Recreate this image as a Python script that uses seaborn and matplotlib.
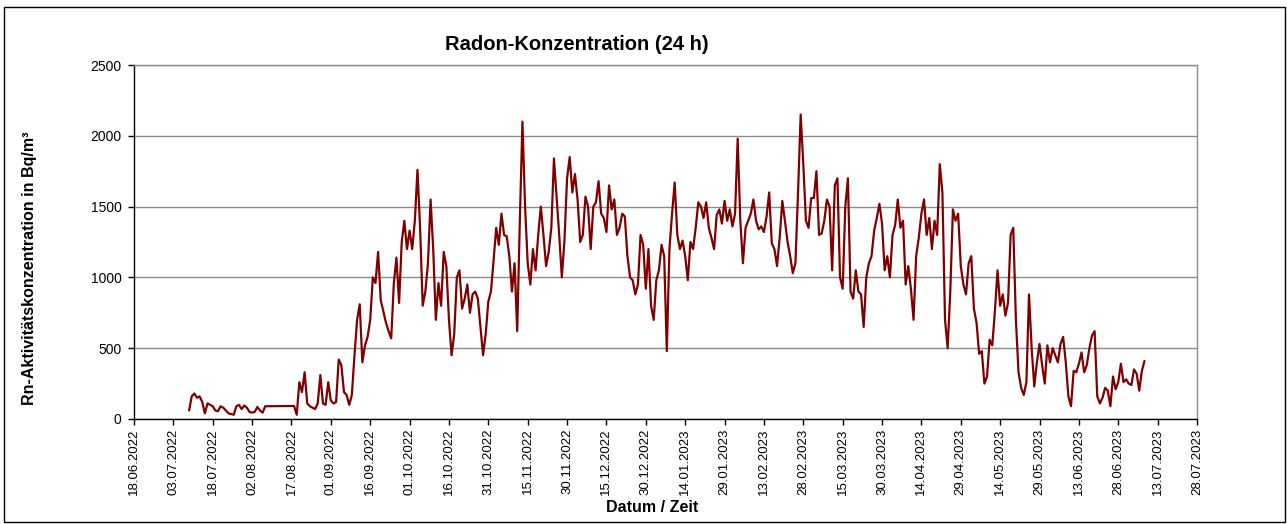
import numpy as np
import pandas as pd
import seaborn as sns
import matplotlib.pyplot as plt
import matplotlib.dates as mdates
from matplotlib.patches import Rectangle

nan = np.nan

# Tageswerte ab 09.07.2022 (Bq/m3)
start_date = "2022-07-09"
radon = [
    60, 160, 180, 150, 160, 120, 40, 110, 100, 90,
    60, 55, 90, 80, 60, 40, 35, 30, 90, 100,
    70, 95, 80, 50, 45, 50, 85, 60, 45, 90,
    nan, nan, nan, nan, nan, nan, nan, nan, nan, nan,
    92, 30, 260, 190, 330, 110, 90, 80, 70, 110,
    310, 110, 100, 260, 130, 110, 120, 420, 380, 190,
    170, 100, 170, 450, 700, 810, 400, 520, 580, 700,
    1000, 960, 1180, 840, 760, 680, 620, 570, 960, 1140,
    820, 1250, 1400, 1200, 1330, 1200, 1400, 1760, 1350, 800,
    900, 1100, 1550, 1200, 700, 960, 800, 1180, 1080, 700,
    450, 600, 1000, 1050, 780, 850, 950, 750, 880, 900,
    850, 650, 450, 600, 830, 900, 1120, 1350, 1230, 1450,
    1300, 1290, 1150, 900, 1100, 620, 1400, 2100, 1500, 1100,
    950, 1200, 1050, 1300, 1500, 1300, 1080, 1180, 1350, 1840,
    1570, 1300, 1000, 1260, 1700, 1850, 1600, 1730, 1550, 1250,
    1300, 1570, 1500, 1200, 1500, 1530, 1680, 1450, 1420, 1320,
    1650, 1480, 1550, 1300, 1350, 1450, 1430, 1150, 1000, 980,
    880, 950, 1300, 1230, 920, 1200, 800, 700, 980, 1050,
    1230, 1150, 480, 1200, 1450, 1670, 1300, 1200, 1260, 1150,
    980, 1250, 1200, 1350, 1530, 1500, 1420, 1530, 1350, 1280,
    1200, 1440, 1480, 1380, 1540, 1400, 1480, 1360, 1450, 1980,
    1400, 1100, 1350, 1400, 1450, 1550, 1400, 1340, 1360, 1320,
    1430, 1600, 1240, 1200, 1080, 1280, 1540, 1400, 1250, 1150,
    1030, 1100, 1600, 2150, 1800, 1400, 1350, 1560, 1560, 1750,
    1300, 1310, 1400, 1550, 1500, 1050, 1650, 1700, 1000, 920,
    1500, 1700, 900, 850, 1050, 900, 880, 650, 1000, 1100,
    1150, 1330, 1420, 1520, 1380, 1050, 1150, 1000, 1300, 1370,
    1550, 1350, 1400, 950, 1080, 920, 700, 1150, 1280, 1450,
    1550, 1300, 1420, 1200, 1400, 1300, 1800, 1600, 700, 500,
    900, 1480, 1400, 1450, 1080, 950, 880, 1100, 1150, 780,
    680, 460, 480, 250, 300, 560, 520, 760, 1050, 800,
    880, 730, 820, 1300, 1350, 700, 330, 220, 170, 260,
    880, 500, 230, 400, 530, 380, 250, 520, 400, 500,
    450, 400, 530, 580, 400, 160, 90, 340, 330, 390,
    470, 330, 380, 500, 590, 620, 160, 110, 150, 220,
    200, 90, 300, 210, 260, 390, 260, 280, 250, 240,
    350, 320, 200, 340, 410,
]

tick_start = "2022-06-18"
tick_end = "2023-07-28"
y_ticks = [0, 500, 1000, 1500, 2000, 2500]

df = pd.DataFrame({
    "datum": pd.date_range(start_date, periods=len(radon), freq="D"),
    "rn": radon,
}).dropna()

sns.set_theme(style="white")
plt.rcParams["font.family"] = ["Liberation Sans", "DejaVu Sans"]
plt.rcParams["text.color"] = "black"
plt.rcParams["xtick.color"] = "black"
plt.rcParams["ytick.color"] = "black"

W, H = 1287, 524
fig = plt.figure(figsize=(W / 100, H / 100), dpi=100)
ax = fig.add_axes([134 / W, 1 - 419 / H, (1197 - 134) / W, (419 - 65) / H])

sns.lineplot(data=df, x="datum", y="rn", color="#800000", linewidth=1.6, ax=ax)

ax.set_xlim(pd.Timestamp(tick_start), pd.Timestamp(tick_end))
ax.set_ylim(0, 2500)
ax.set_xticks(pd.date_range(tick_start, tick_end, freq="15D"))
ax.set_yticks(y_ticks)
ax.xaxis.set_major_formatter(mdates.DateFormatter("%d.%m.%Y"))
plt.setp(ax.get_xticklabels(), rotation=90)
ax.tick_params(axis="both", bottom=True, left=True, direction="out",
               length=4, width=1, color="black", labelcolor="black", pad=3)
ax.tick_params(axis="x", labelsize=9.5)
ax.tick_params(axis="y", labelsize=10, pad=5)

ax.yaxis.grid(True, color="#8c8c8c", linewidth=1)
ax.xaxis.grid(False)
for side in ["top", "right"]:
    ax.spines[side].set_color("#8c8c8c")
for side in ["left", "bottom"]:
    ax.spines[side].set_color("black")
for s in ax.spines.values():
    s.set_linewidth(1)

ax.set_xlabel("")
ax.set_ylabel("")

fig.text(577 / W, 1 - 44 / H, "Radon-Konzentration (24 h)", ha="center", va="center",
         fontsize=14.5, fontweight="bold")
fig.text(30 / W, 1 - 268 / H, "Rn-Aktivitätskonzentration in Bq/m³", ha="center", va="center",
         rotation=90, fontsize=11.5, fontweight="bold")
fig.text(652 / W, 1 - 508 / H, "Datum / Zeit", ha="center", va="center",
         fontsize=11.5, fontweight="bold")

fig.patches.append(Rectangle((4 / W, 2 / H), 1 - 6 / W, 1 - 9 / H, transform=fig.transFigure,
                             fill=False, edgecolor="black", linewidth=1))

fig.savefig("out.png", dpi=100)
